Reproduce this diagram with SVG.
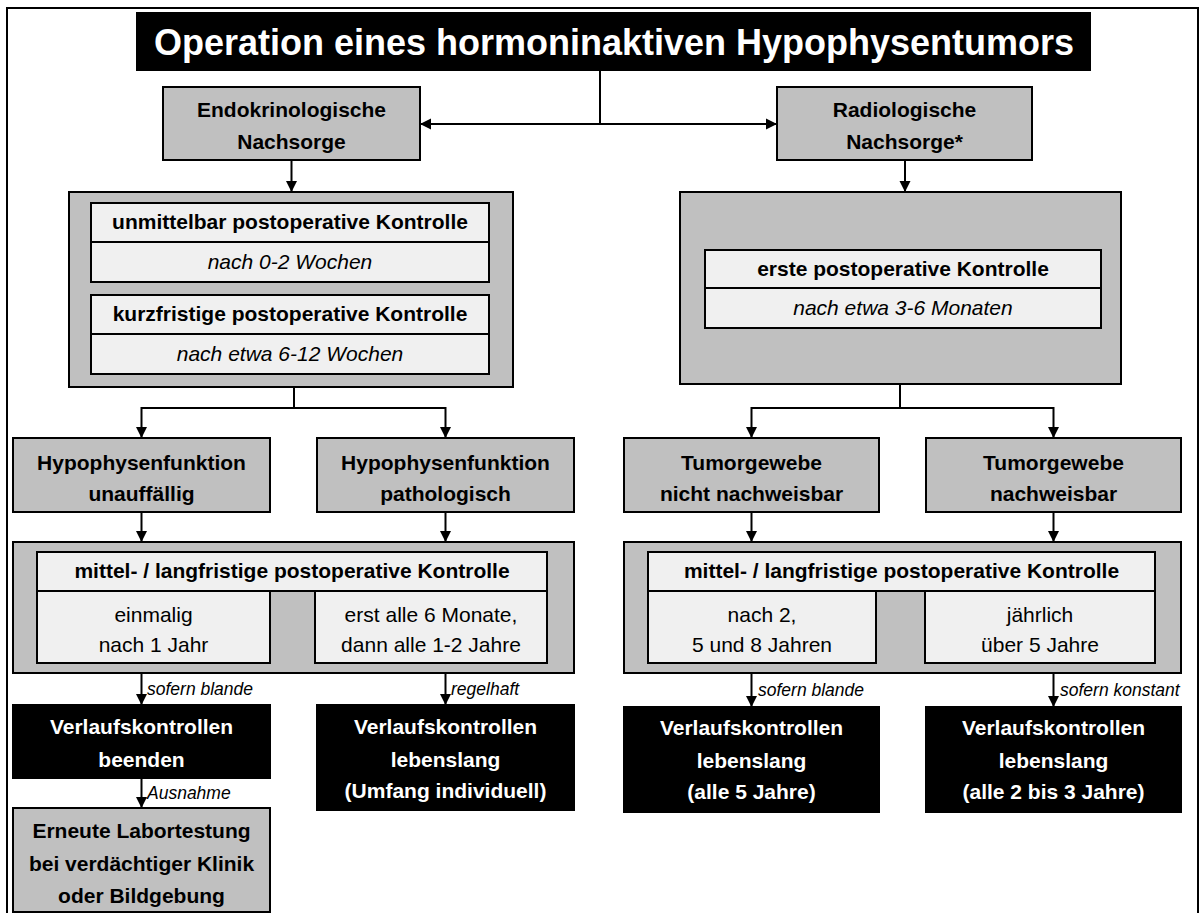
<svg xmlns="http://www.w3.org/2000/svg" width="1204" height="913" viewBox="0 0 1204 913">
<defs>
<marker id="ah" markerUnits="userSpaceOnUse" markerWidth="12" markerHeight="12" refX="11" refY="6" orient="auto">
<path d="M0,0.5 L11,6 L0,11.5 z" fill="#000"/>
</marker>
<style>
text{font-family:"Liberation Sans",Arial,Helvetica,sans-serif;text-anchor:middle;}
.g{fill:#c0c0c0;stroke:#000;stroke-width:2;}
.w{fill:#f0f0f0;stroke:#000;stroke-width:2;}
.k{fill:#000;stroke:#000;stroke-width:2;}
.b{font-size:21px;font-weight:bold;fill:#000;}
.bw{font-size:21px;font-weight:bold;fill:#fff;}
.r{font-size:21px;fill:#000;}
.i{font-size:21px;font-style:italic;fill:#000;}
.lbl{font-size:17.5px;font-style:italic;fill:#000;text-anchor:start;}
.c{fill:none;stroke:#000;stroke-width:2;}
.ca{fill:none;stroke:#000;stroke-width:2;marker-end:url(#ah);}
</style>
</defs>
<rect x="0" y="0" width="1204" height="913" fill="#fff"/>
<rect x="7" y="8" width="1191" height="930" fill="none" stroke="#000" stroke-width="2"/>

<g id="title">
<rect x="136" y="12" width="955" height="59" fill="#000"/>
<text x="614" y="55" style="font-size:36px;font-weight:bold;fill:#fff;">Operation eines hormoninaktiven Hypophysentumors</text>
</g>

<g id="endo">
<rect class="g" x="163" y="87" width="257" height="73"/>
<text class="b" x="291.5" y="117">Endokrinologische</text>
<text class="b" x="291.5" y="149">Nachsorge</text>
</g>
<g id="radio">
<rect class="g" x="777" y="87" width="255" height="73"/>
<text class="b" x="904.5" y="117">Radiologische</text>
<text class="b" x="904.5" y="149">Nachsorge*</text>
</g>

<g id="endo-kontrolle">
<rect class="g" x="69" y="192" width="444" height="195"/>
<rect class="w" x="91" y="203" width="398" height="39"/>
<text class="b" x="290" y="229">unmittelbar postoperative Kontrolle</text>
<rect class="w" x="91" y="242" width="398" height="40"/>
<text class="i" x="290" y="269">nach 0-2 Wochen</text>
<rect class="w" x="91" y="295" width="398" height="39"/>
<text class="b" x="290" y="321">kurzfristige postoperative Kontrolle</text>
<rect class="w" x="91" y="334" width="398" height="40"/>
<text class="i" x="290" y="361">nach etwa 6-12 Wochen</text>
</g>

<g id="radio-kontrolle">
<rect class="g" x="680" y="192" width="441" height="192"/>
<rect class="w" x="705" y="250" width="396" height="38"/>
<text class="b" x="903" y="276">erste postoperative Kontrolle</text>
<rect class="w" x="705" y="288" width="396" height="40"/>
<text class="i" x="903" y="315">nach etwa 3-6 Monaten</text>
</g>

<g id="hypo-unauff">
<rect class="g" x="13" y="438" width="257" height="74"/>
<text class="b" x="141.5" y="470">Hypophysenfunktion</text>
<text class="b" x="141.5" y="501">unauffällig</text>
</g>
<g id="hypo-path">
<rect class="g" x="317" y="438" width="257" height="74"/>
<text class="b" x="445.5" y="470">Hypophysenfunktion</text>
<text class="b" x="445.5" y="501">pathologisch</text>
</g>
<g id="tumor-nicht">
<rect class="g" x="624" y="438" width="255" height="74"/>
<text class="b" x="751.5" y="470">Tumorgewebe</text>
<text class="b" x="751.5" y="501">nicht nachweisbar</text>
</g>
<g id="tumor-nachw">
<rect class="g" x="926" y="438" width="255" height="74"/>
<text class="b" x="1053.5" y="470">Tumorgewebe</text>
<text class="b" x="1053.5" y="501">nachweisbar</text>
</g>

<g id="endo-langfristig">
<rect class="g" x="13" y="542" width="561" height="131"/>
<rect class="w" x="37" y="552" width="510" height="39"/>
<text class="b" x="292" y="578">mittel- / langfristige postoperative Kontrolle</text>
<rect class="w" x="37" y="591" width="233" height="72"/>
<text class="r" x="153.5" y="622">einmalig</text>
<text class="r" x="153.5" y="652">nach 1 Jahr</text>
<rect class="w" x="315" y="591" width="232" height="72"/>
<text class="r" x="431" y="622">erst alle 6 Monate,</text>
<text class="r" x="431" y="652">dann alle 1-2 Jahre</text>
</g>

<g id="radio-langfristig">
<rect class="g" x="624" y="542" width="557" height="131"/>
<rect class="w" x="648" y="552" width="507" height="39"/>
<text class="b" x="901.5" y="578">mittel- / langfristige postoperative Kontrolle</text>
<rect class="w" x="648" y="591" width="228" height="72"/>
<text class="r" x="762" y="622">nach 2,</text>
<text class="r" x="762" y="652">5 und 8 Jahren</text>
<rect class="w" x="925" y="591" width="230" height="72"/>
<text class="r" x="1040" y="622">jährlich</text>
<text class="r" x="1040" y="652">über 5 Jahre</text>
</g>

<g id="beenden">
<rect class="k" x="13" y="705" width="257" height="73"/>
<text class="bw" x="141.5" y="734">Verlaufskontrollen</text>
<text class="bw" x="141.5" y="767">beenden</text>
</g>
<g id="lebenslang-indiv">
<rect class="k" x="317" y="705" width="257" height="105"/>
<text class="bw" x="445.5" y="734">Verlaufskontrollen</text>
<text class="bw" x="445.5" y="767">lebenslang</text>
<text class="bw" x="445.5" y="798">(Umfang individuell)</text>
</g>
<g id="lebenslang-5">
<rect class="k" x="624" y="707" width="255" height="105"/>
<text class="bw" x="751.5" y="735">Verlaufskontrollen</text>
<text class="bw" x="751.5" y="768">lebenslang</text>
<text class="bw" x="751.5" y="799">(alle 5 Jahre)</text>
</g>
<g id="lebenslang-2-3">
<rect class="k" x="926" y="707" width="255" height="105"/>
<text class="bw" x="1053.5" y="735">Verlaufskontrollen</text>
<text class="bw" x="1053.5" y="768">lebenslang</text>
<text class="bw" x="1053.5" y="799">(alle 2 bis 3 Jahre)</text>
</g>
<g id="labortestung">
<rect class="g" x="13" y="808" width="257" height="104"/>
<text class="b" x="141.5" y="838">Erneute Labortestung</text>
<text class="b" x="141.5" y="871">bei verdächtiger Klinik</text>
<text class="b" x="141.5" y="903">oder Bildgebung</text>
</g>

<g id="connectors">
<path class="c" d="M600,71 V124"/>
<path class="ca" d="M600,124 H420"/>
<path class="ca" d="M600,124 H777"/>
<path class="ca" d="M291.5,160 V192"/>
<path class="ca" d="M905,160 V192"/>
<path class="ca" d="M294,387 V408 H141.5 V438"/>
<path class="ca" d="M294,408 H445.5 V438"/>
<path class="ca" d="M900,384 V408 H751.5 V438"/>
<path class="ca" d="M900,408 H1053.5 V438"/>
<path class="ca" d="M141.5,512 V542"/>
<path class="ca" d="M445.5,512 V542"/>
<path class="ca" d="M751.5,512 V542"/>
<path class="ca" d="M1053.5,512 V542"/>
<path class="ca" d="M141.5,673 V705"/>
<path class="ca" d="M445.5,673 V705"/>
<path class="ca" d="M751.5,673 V707"/>
<path class="ca" d="M1053.5,673 V707"/>
<path class="ca" d="M141.5,778 V808"/>
<text class="lbl" x="147" y="695">sofern blande</text>
<text class="lbl" x="451" y="695">regelhaft</text>
<text class="lbl" x="758" y="696">sofern blande</text>
<text class="lbl" x="1060" y="696">sofern konstant</text>
<text class="lbl" x="147" y="799">Ausnahme</text>
</g>
</svg>
